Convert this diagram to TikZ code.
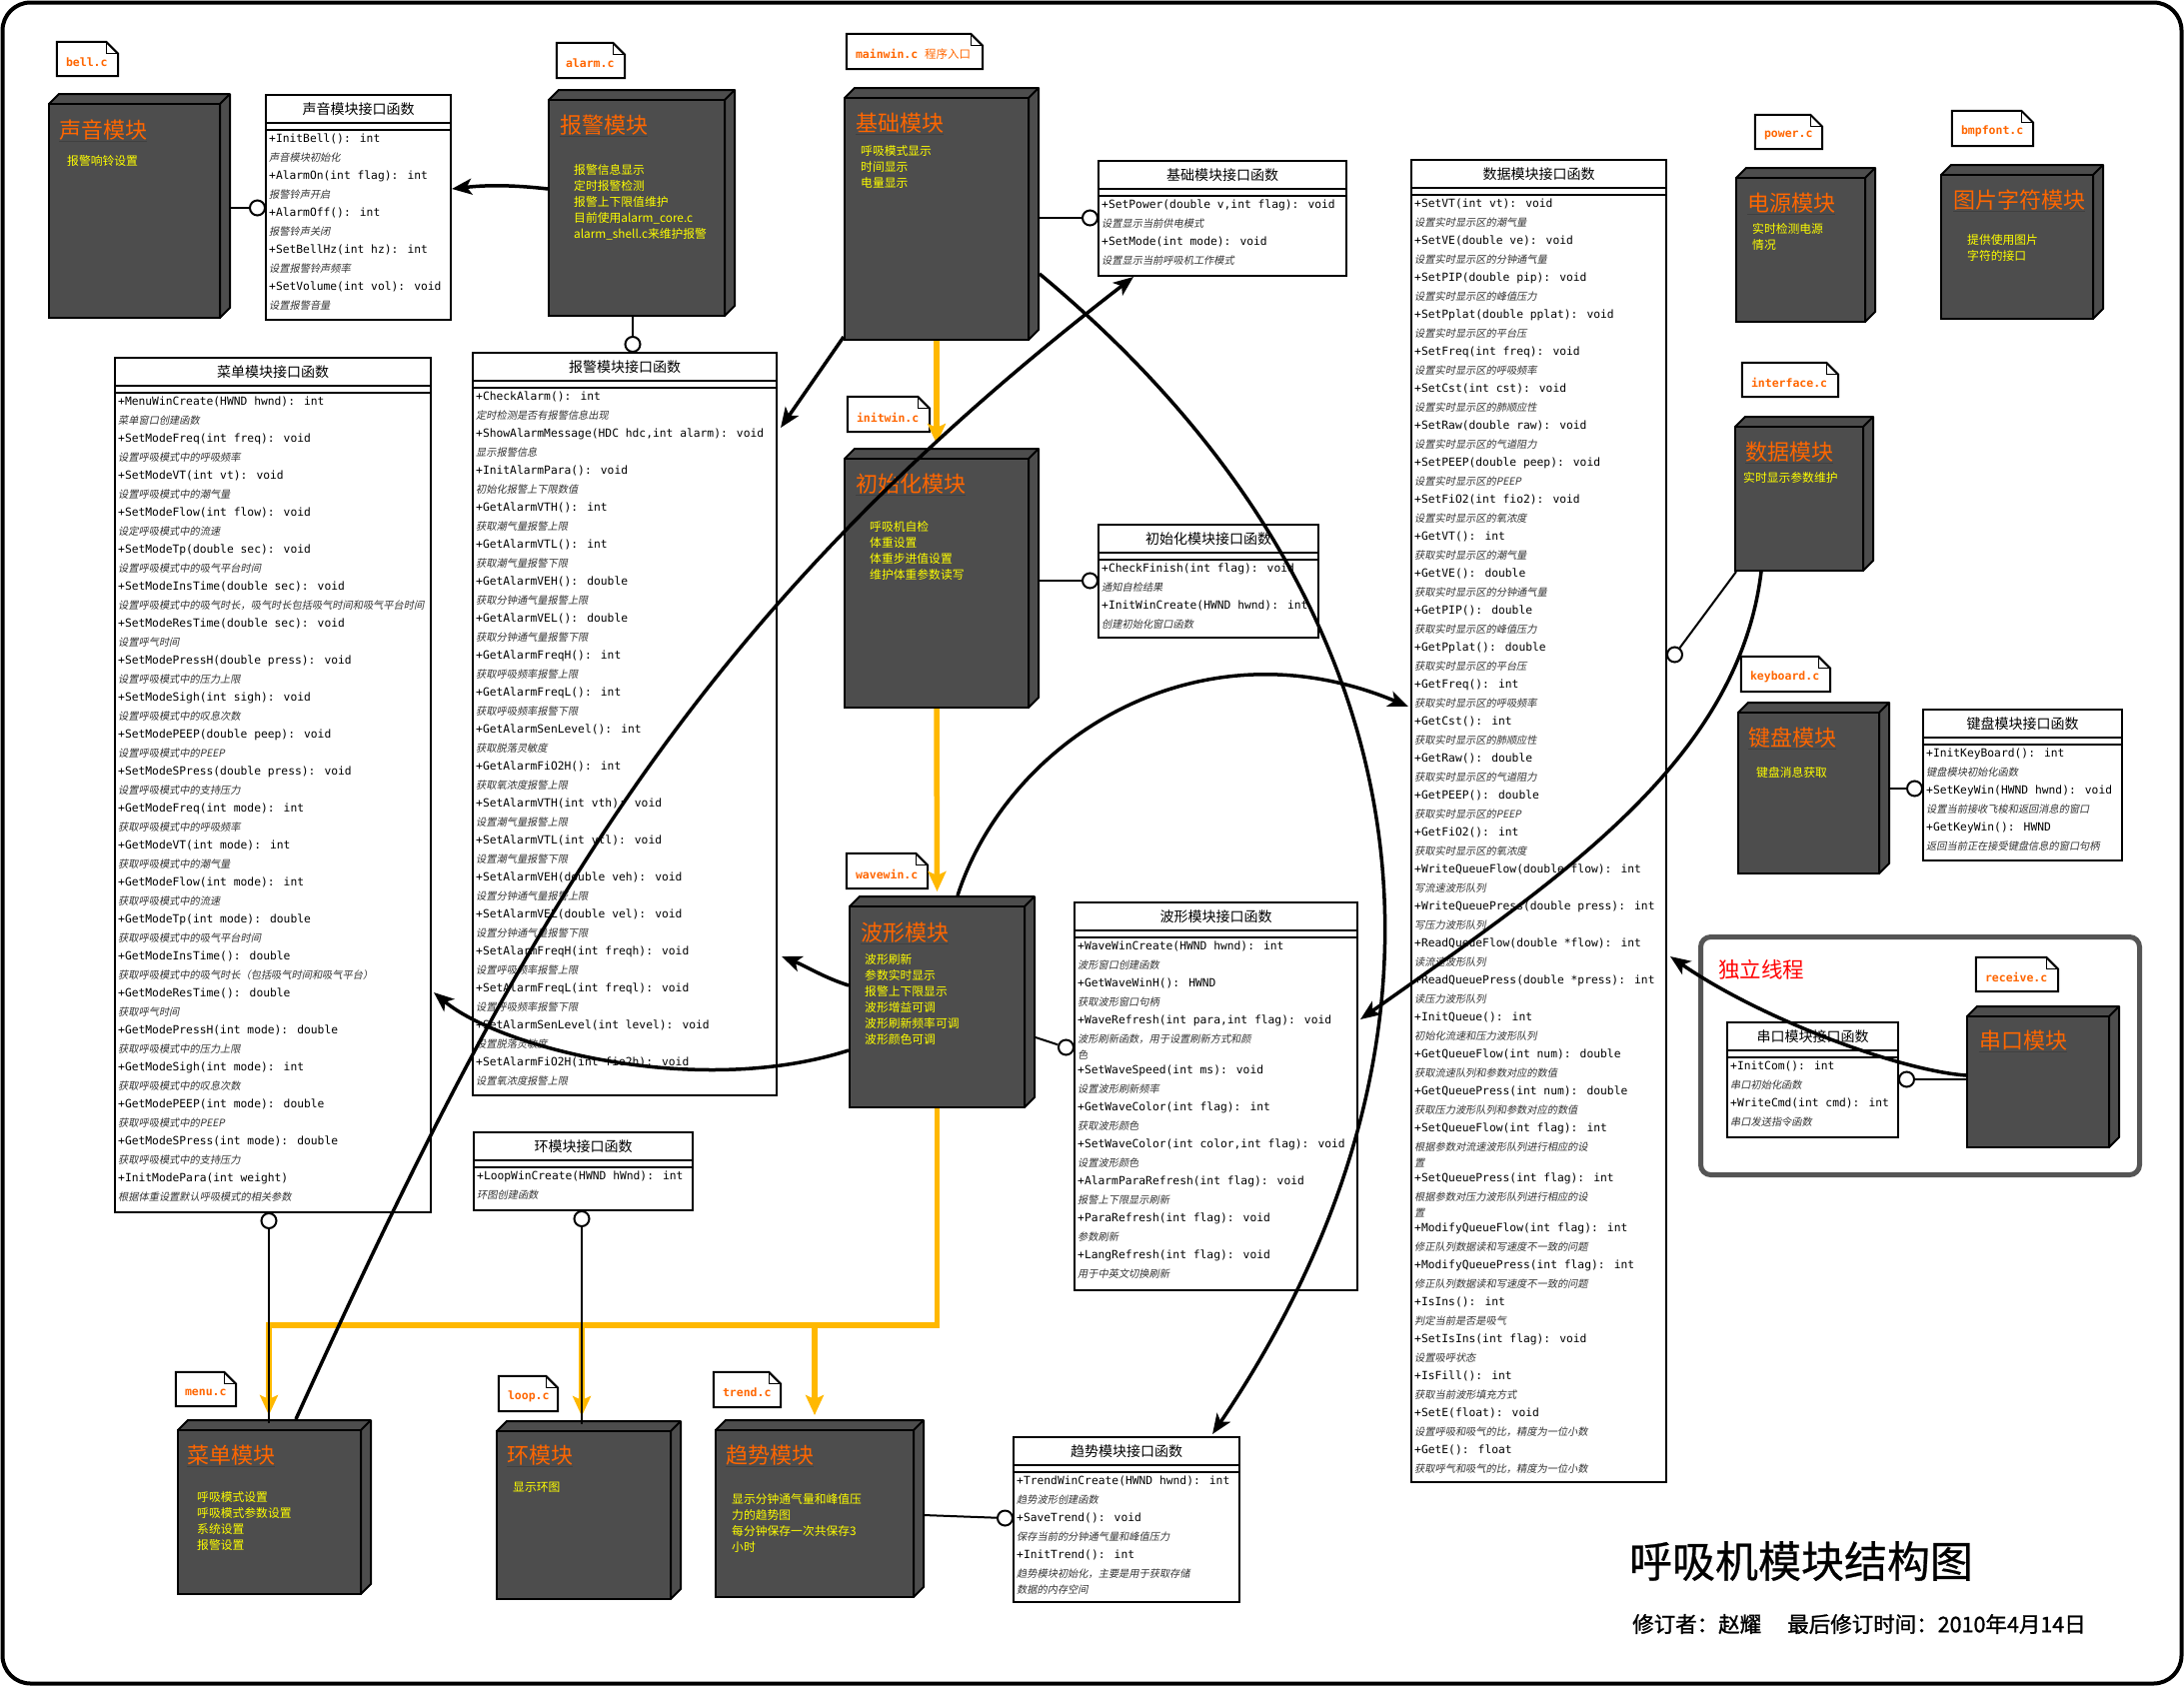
\documentclass[tikz,border=0pt]{standalone}
\usepackage{fontspec}
\usetikzlibrary{arrows.meta,fit,calc}
\newfontfamily\cjk{Noto Sans CJK SC}
\newfontfamily\cjkit{Noto Sans CJK SC}[FakeSlant=0.2]
\newfontfamily\cjkbf{Noto Sans CJK SC}[FakeBold=1.2]
\newfontfamily\cjkmb{Noto Sans CJK SC}[FakeBold=0.6]
\newfontfamily\mono{DejaVu Sans Mono}
\definecolor{boxgray}{HTML}{4D4D4D}
\definecolor{ttlorange}{HTML}{FF6600}
\definecolor{ylw}{HTML}{FFFF00}
\definecolor{amber}{HTML}{FFB800}
\definecolor{framegray}{HTML}{555555}
\newcounter{rowc}
\tikzset{
  modfront/.style={draw=black, fill=boxgray, line width=2pt, inner sep=0pt},
  modback/.style={draw=black, fill=boxgray, line width=2pt, line join=round},
  modtitle/.style={font=\cjk\fontsize{22}{24}\selectfont, text=ttlorange, anchor=west, inner sep=0pt},
  yl/.style={font=\cjk\fontsize{11.8}{16}\selectfont, text=ylw, anchor=north west, align=left, inner sep=0pt},
  ifbox/.style={draw=black, fill=white, line width=2pt, inner sep=0pt},
  iftitle/.style={font=\cjk\fontsize{14}{16}\selectfont, inner sep=0pt},
  sig/.style={font=\mono\fontsize{11.3}{13}\selectfont, anchor=west, inner sep=0pt},
  cmt/.style={font=\cjkit\fontsize{10.2}{11}\selectfont, anchor=west, inner sep=0pt, text=black!80},
  notebox/.style={draw=black, fill=white, line width=2pt, line join=miter},
  notetext/.style={font=\mono\bfseries\fontsize{11.5}{13}\selectfont, text=ttlorange, anchor=west, inner sep=0pt},
  conn/.style={line width=3.5pt, -{Stealth[length=20pt,width=16pt,inset=5pt]}},
  oconn/.style={draw=amber, line width=5.5pt, -{Stealth[length=20pt,width=18pt,inset=4pt]}},
  lolli/.style={line width=2pt},
  ball/.style={circle, draw=black, fill=white, line width=2pt, minimum size=15pt, inner sep=0pt},
}
\newcommand\module[5]{%
  \path[modback] (#2,#3) -- (#2+10,#3-10) -- (#4+10,#3-10) -- (#4+10,#5-10) -- (#4,#5) -- (#4,#3) -- cycle;
  \draw[line width=2pt] (#4,#3) -- (#4+10,#3-10);
  \node[modfront, fit={(#2,#3) (#4,#5)}] (#1) {};}
\newcommand\modtitle[4]{%
  \node[modtitle] (#1-t) at (#2,#3) {#4};
  \draw[line width=1pt, black!75] ($(#1-t.south west)+(0,1)$) -- ($(#1-t.south east)+(0,1)$);}
\newcommand\ytext[4]{\node[yl] (#1-y) at (#2,#3-6) {#4};}
\newcommand\iface[6]{%
  \node[ifbox, fit={(#2,#3) (#4,#5)}] (#1) {};
  \draw[line width=2pt] (#2,#3+28) -- (#4,#3+28) (#2,#3+35) -- (#4,#3+35);
  \node[iftitle] (#1-t) at ({(#2+#4)/2},#3+14) {#6};
  \pgfmathsetmacro\cx{#2+3}\pgfmathsetmacro\cy{#3+35+9.25}}
\newcommand\rowS[1]{\stepcounter{rowc}\node[sig] (row\therowc) at (\cx,\cy) {#1};\pgfmathsetmacro\cy{\cy+18.5}}
\newcommand\rowC[1]{\stepcounter{rowc}\node[cmt] (row\therowc) at (\cx,\cy) {#1};\pgfmathsetmacro\cy{\cy+18.5}}
\newcommand\rowD[1]{\stepcounter{rowc}\node[cmt] (row\therowc) at (\cx,\cy) {#1};\pgfmathsetmacro\cy{\cy+15.5}}
\newcommand\rowW[1]{\stepcounter{rowc}\node[cmt] (row\therowc) at (\cx,\cy) {#1};\pgfmathsetmacro\cy{\cy+16}}
\newcommand\notec[6]{%
  \node[fit={(#2,#3) (#4,#5)}, inner sep=0pt] (#1) {};
  \draw[notebox] (#1.north west) -- ($(#1.north east)+(-12,0)$) -- ($(#1.north east)+(0,12)$) -- (#1.south east) -- (#1.south west) -- cycle;
  \draw[line width=1pt] ($(#1.north east)+(-12,0)$) -- ($(#1.north east)+(-12,12)$) -- ($(#1.north east)+(0,12)$);
  \node[notetext] (#1-t) at ($(#1.west)+(9,3)$) {#6};}
\begin{document}
\begin{tikzpicture}[x=1pt,y=-1pt]
\useasboundingbox (0,0) rectangle (2185,1687);
\fill[white] (0,0) rectangle (2185,1687);
\draw[line width=4pt, rounded corners=28pt] (2.5,2.5) rectangle (2182.5,1684.5);
% independent thread frame
\draw[line width=5pt, framegray, rounded corners=10pt] (1701.5,937.5) rectangle (2140.5,1175.5);
\node[font=\cjk\fontsize{21.5}{24}\selectfont, text=red, anchor=west, inner sep=0pt] (thread) at (1719,970) {独立线程};

% ---------- interface boxes ----------
\iface{soundif}{266}{95}{451}{320}{声音模块接口函数}
\rowS{+InitBell(): int}\rowC{声音模块初始化}
\rowS{+AlarmOn(int flag): int}\rowC{报警铃声开启}
\rowS{+AlarmOff(): int}\rowC{报警铃声关闭}
\rowS{+SetBellHz(int hz): int}\rowC{设置报警铃声频率}
\rowS{+SetVolume(int vol): void}\rowC{设置报警音量}

\iface{alarmif}{473}{353}{777}{1096}{报警模块接口函数}
\rowS{+CheckAlarm(): int}\rowC{定时检测是否有报警信息出现}
\rowS{+ShowAlarmMessage(HDC hdc,int alarm): void}\rowC{显示报警信息}
\rowS{+InitAlarmPara(): void}\rowC{初始化报警上下限数值}
\rowS{+GetAlarmVTH(): int}\rowC{获取潮气量报警上限}
\rowS{+GetAlarmVTL(): int}\rowC{获取潮气量报警下限}
\rowS{+GetAlarmVEH(): double}\rowC{获取分钟通气量报警上限}
\rowS{+GetAlarmVEL(): double}\rowC{获取分钟通气量报警下限}
\rowS{+GetAlarmFreqH(): int}\rowC{获取呼吸频率报警上限}
\rowS{+GetAlarmFreqL(): int}\rowC{获取呼吸频率报警下限}
\rowS{+GetAlarmSenLevel(): int}\rowC{获取脱落灵敏度}
\rowS{+GetAlarmFiO2H(): int}\rowC{获取氧浓度报警上限}
\rowS{+SetAlarmVTH(int vth): void}\rowC{设置潮气量报警上限}
\rowS{+SetAlarmVTL(int vtl): void}\rowC{设置潮气量报警下限}
\rowS{+SetAlarmVEH(double veh): void}\rowC{设置分钟通气量报警上限}
\rowS{+SetAlarmVEL(double vel): void}\rowC{设置分钟通气量报警下限}
\rowS{+SetAlarmFreqH(int freqh): void}\rowC{设置呼吸频率报警上限}
\rowS{+SetAlarmFreqL(int freql): void}\rowC{设置呼吸频率报警下限}
\rowS{+SetAlarmSenLevel(int level): void}\rowC{设置脱落灵敏度}
\rowS{+SetAlarmFiO2H(int fio2h): void}\rowC{设置氧浓度报警上限}

\iface{menuif}{115}{358}{431}{1213}{菜单模块接口函数}
\rowS{+MenuWinCreate(HWND hwnd): int}\rowC{菜单窗口创建函数}
\rowS{+SetModeFreq(int freq): void}\rowC{设置呼吸模式中的呼吸频率}
\rowS{+SetModeVT(int vt): void}\rowC{设置呼吸模式中的潮气量}
\rowS{+SetModeFlow(int flow): void}\rowC{设定呼吸模式中的流速}
\rowS{+SetModeTp(double sec): void}\rowC{设置呼吸模式中的吸气平台时间}
\rowS{+SetModeInsTime(double sec): void}\rowC{设置呼吸模式中的吸气时长，吸气时长包括吸气时间和吸气平台时间}
\rowS{+SetModeResTime(double sec): void}\rowC{设置呼气时间}
\rowS{+SetModePressH(double press): void}\rowC{设置呼吸模式中的压力上限}
\rowS{+SetModeSigh(int sigh): void}\rowC{设置呼吸模式中的叹息次数}
\rowS{+SetModePEEP(double peep): void}\rowC{设置呼吸模式中的PEEP}
\rowS{+SetModeSPress(double press): void}\rowC{设置呼吸模式中的支持压力}
\rowS{+GetModeFreq(int mode): int}\rowC{获取呼吸模式中的呼吸频率}
\rowS{+GetModeVT(int mode): int}\rowC{获取呼吸模式中的潮气量}
\rowS{+GetModeFlow(int mode): int}\rowC{获取呼吸模式中的流速}
\rowS{+GetModeTp(int mode): double}\rowC{获取呼吸模式中的吸气平台时间}
\rowS{+GetModeInsTime(): double}\rowC{获取呼吸模式中的吸气时长（包括吸气时间和吸气平台）}
\rowS{+GetModeResTime(): double}\rowC{获取呼气时间}
\rowS{+GetModePressH(int mode): double}\rowC{获取呼吸模式中的压力上限}
\rowS{+GetModeSigh(int mode): int}\rowC{获取呼吸模式中的叹息次数}
\rowS{+GetModePEEP(int mode): double}\rowC{获取呼吸模式中的PEEP}
\rowS{+GetModeSPress(int mode): double}\rowC{获取呼吸模式中的支持压力}
\rowS{+InitModePara(int weight)}\rowC{根据体重设置默认呼吸模式的相关参数}

\iface{baseif}{1099}{161}{1347}{276}{基础模块接口函数}
\rowS{+SetPower(double v,int flag): void}\rowC{设置显示当前供电模式}
\rowS{+SetMode(int mode): void}\rowC{设置显示当前呼吸机工作模式}

\iface{initif}{1099}{525}{1319}{638}{初始化模块接口函数}
\rowS{+CheckFinish(int flag): void}\rowC{通知自检结果}
\rowS{+InitWinCreate(HWND hwnd): int}\rowC{创建初始化窗口函数}

\iface{dataif}{1412}{160}{1667}{1483}{数据模块接口函数}
\rowS{+SetVT(int vt): void}\rowC{设置实时显示区的潮气量}
\rowS{+SetVE(double ve): void}\rowC{设置实时显示区的分钟通气量}
\rowS{+SetPIP(double pip): void}\rowC{设置实时显示区的峰值压力}
\rowS{+SetPplat(double pplat): void}\rowC{设置实时显示区的平台压}
\rowS{+SetFreq(int freq): void}\rowC{设置实时显示区的呼吸频率}
\rowS{+SetCst(int cst): void}\rowC{设置实时显示区的肺顺应性}
\rowS{+SetRaw(double raw): void}\rowC{设置实时显示区的气道阻力}
\rowS{+SetPEEP(double peep): void}\rowC{设置实时显示区的PEEP}
\rowS{+SetFiO2(int fio2): void}\rowC{设置实时显示区的氧浓度}
\rowS{+GetVT(): int}\rowC{获取实时显示区的潮气量}
\rowS{+GetVE(): double}\rowC{获取实时显示区的分钟通气量}
\rowS{+GetPIP(): double}\rowC{获取实时显示区的峰值压力}
\rowS{+GetPplat(): double}\rowC{获取实时显示区的平台压}
\rowS{+GetFreq(): int}\rowC{获取实时显示区的呼吸频率}
\rowS{+GetCst(): int}\rowC{获取实时显示区的肺顺应性}
\rowS{+GetRaw(): double}\rowC{获取实时显示区的气道阻力}
\rowS{+GetPEEP(): double}\rowC{获取实时显示区的PEEP}
\rowS{+GetFiO2(): int}\rowC{获取实时显示区的氧浓度}
\rowS{+WriteQueueFlow(double flow): int}\rowC{写流速波形队列}
\rowS{+WriteQueuePress(double press): int}\rowC{写压力波形队列}
\rowS{+ReadQueueFlow(double *flow): int}\rowC{读流速波形队列}
\rowS{+ReadQueuePress(double *press): int}\rowC{读压力波形队列}
\rowS{+InitQueue(): int}\rowC{初始化流速和压力波形队列}
\rowS{+GetQueueFlow(int num): double}\rowC{获取流速队列和参数对应的数值}
\rowS{+GetQueuePress(int num): double}\rowC{获取压力波形队列和参数对应的数值}
\rowS{+SetQueueFlow(int flag): int}\rowD{根据参数对流速波形队列进行相应的设}\rowW{置}
\rowS{+SetQueuePress(int flag): int}\rowD{根据参数对压力波形队列进行相应的设}\rowW{置}
\rowS{+ModifyQueueFlow(int flag): int}\rowC{修正队列数据读和写速度不一致的问题}
\rowS{+ModifyQueuePress(int flag): int}\rowC{修正队列数据读和写速度不一致的问题}
\rowS{+IsIns(): int}\rowC{判定当前是否是吸气}
\rowS{+SetIsIns(int flag): void}\rowC{设置吸呼状态}
\rowS{+IsFill(): int}\rowC{获取当前波形填充方式}
\rowS{+SetE(float): void}\rowC{设置呼吸和吸气的比，精度为一位小数}
\rowS{+GetE(): float}\rowC{获取呼气和吸气的比，精度为一位小数}

\iface{waveif}{1075}{903}{1358}{1291}{波形模块接口函数}
\rowS{+WaveWinCreate(HWND hwnd): int}\rowC{波形窗口创建函数}
\rowS{+GetWaveWinH(): HWND}\rowC{获取波形窗口句柄}
\rowS{+WaveRefresh(int para,int flag): void}\rowD{波形刷新函数，用于设置刷新方式和颜}\rowW{色}
\rowS{+SetWaveSpeed(int ms): void}\rowC{设置波形刷新频率}
\rowS{+GetWaveColor(int flag): int}\rowC{获取波形颜色}
\rowS{+SetWaveColor(int color,int flag): void}\rowC{设置波形颜色}
\rowS{+AlarmParaRefresh(int flag): void}\rowC{报警上下限显示刷新}
\rowS{+ParaRefresh(int flag): void}\rowC{参数刷新}
\rowS{+LangRefresh(int flag): void}\rowC{用于中英文切换刷新}

\iface{keyif}{1924}{710}{2123}{861}{键盘模块接口函数}
\rowS{+InitKeyBoard(): int}\rowC{键盘模块初始化函数}
\rowS{+SetKeyWin(HWND hwnd): void}\rowC{设置当前接收飞梭和返回消息的窗口}
\rowS{+GetKeyWin(): HWND}\rowC{返回当前正在接受键盘信息的窗口句柄}

\iface{serialif}{1728}{1023}{1899}{1138}{串口模块接口函数}
\rowS{+InitCom(): int}\rowC{串口初始化函数}
\rowS{+WriteCmd(int cmd): int}\rowC{串口发送指令函数}

\iface{loopif}{474}{1133}{693}{1211}{环模块接口函数}
\rowS{+LoopWinCreate(HWND hWnd): int}\rowC{环图创建函数}

\iface{trendif}{1014}{1438}{1240}{1603}{趋势模块接口函数}
\rowS{+TrendWinCreate(HWND hwnd): int}\rowC{趋势波形创建函数}
\rowS{+SaveTrend(): void}\rowC{保存当前的分钟通气量和峰值压力}
\rowS{+InitTrend(): int}\rowD{趋势模块初始化，主要是用于获取存储}\rowW{数据的内存空间}

% ---------- modules ----------
\module{sound}{49}{104}{220}{318}
\modtitle{sound}{59}{130}{声音模块}
\ytext{sound}{67}{161}{报警响铃设置}

\module{alarm}{549}{100}{725}{316}
\modtitle{alarm}{560}{125}{报警模块}
\ytext{alarm}{574}{170}{报警信息显示\\定时报警检测\\报警上下限值维护\\目前使用alarm\_core.c\\alarm\_shell.c来维护报警}

\module{base}{845}{98}{1029}{340}
\modtitle{base}{856}{123}{基础模块}
\ytext{base}{861}{151}{呼吸模式显示\\时间显示\\电量显示}

\module{init}{845}{459}{1029}{708}
\modtitle{init}{856}{484}{初始化模块}
\ytext{init}{870}{527}{呼吸机自检\\体重设置\\体重步进值设置\\维护体重参数读写}

\module{wave}{850}{907}{1025}{1108}
\modtitle{wave}{861}{933}{波形模块}
\ytext{wave}{865}{960}{波形刷新\\参数实时显示\\报警上下限显示\\波形增益可调\\波形刷新频率可调\\波形颜色可调}

\module{power}{1737}{178}{1866}{322}
\modtitle{power}{1748}{203}{电源模块}
\ytext{power}{1753}{229}{实时检测电源\\情况}

\module{bmp}{1942}{175}{2094}{319}
\modtitle{bmp}{1954}{200}{图片字符模块}
\ytext{bmp}{1968}{240}{提供使用图片\\字符的接口}

\module{data}{1736}{427}{1864}{571}
\modtitle{data}{1746}{452}{数据模块}
\ytext{data}{1744}{478}{实时显示参数维护}

\module{key}{1739}{713}{1880}{874}
\modtitle{key}{1749}{738}{键盘模块}
\ytext{key}{1757}{773}{键盘消息获取}

\module{serial}{1968}{1017}{2110}{1148}
\modtitle{serial}{1980}{1041}{串口模块}

\module{menu}{178}{1431}{361}{1595}
\modtitle{menu}{187}{1456}{菜单模块}
\ytext{menu}{197}{1498}{呼吸模式设置\\呼吸模式参数设置\\系统设置\\报警设置}

\module{loop}{497}{1432}{671}{1600}
\modtitle{loop}{507}{1456}{环模块}
\ytext{loop}{513}{1489}{显示环图}

\module{trend}{716}{1431}{914}{1598}
\modtitle{trend}{726}{1456}{趋势模块}
\ytext{trend}{732}{1500}{显示分钟通气量和峰值压\\力的趋势图\\每分钟保存一次共保存3\\小时}

% ---------- file notes ----------
\notec{nbell}{57}{42}{118}{76}{bell.c}
\notec{nalarm}{557}{43}{625}{78}{alarm.c}
\notec{nmain}{847}{34}{983}{69}{mainwin.c {\cjk\mdseries 程序入口}}
\notec{ninit}{848}{397}{930}{432}{initwin.c}
\notec{nwave}{847}{854}{928}{889}{wavewin.c}
\notec{npower}{1756}{115}{1823}{149}{power.c}
\notec{nbmp}{1953}{111}{2034}{146}{bmpfont.c}
\notec{ndata}{1743}{363}{1839}{397}{interface.c}
\notec{nkey}{1742}{657}{1831}{692}{keyboard.c}
\notec{nserial}{1977}{958}{2059}{992}{receive.c}
\notec{nmenu}{176}{1373}{236}{1407}{menu.c}
\notec{nloop}{499}{1377}{558}{1412}{loop.c}
\notec{ntrend}{714}{1373}{781}{1408}{trend.c}

% ---------- lollipop balls ----------
\node[ball] (soundb) at ($(soundif.north west)+(-7.5,114)$) {};
\node[ball] (alarmb) at ($(alarmif.north west)+(161,-7.5)$) {};
\node[ball] (baseb) at ($(baseif.north west)+(-7.5,58)$) {};
\node[ball] (initb) at ($(initif.north west)+(-7.5,57)$) {};
\node[ball] (waveb) at ($(waveif.north west)+(-7.5,146)$) {};
\node[ball] (datab) at ($(dataif.north east)+(7.5,496)$) {};
\node[ball] (keyb) at ($(keyif.north west)+(-7.5,80)$) {};
\node[ball] (serialb) at ($(serialif.north east)+(7.5,58)$) {};
\node[ball] (menub) at ($(menuif.south west)+(155,7.5)$) {};
\node[ball] (loopb) at ($(loopif.south west)+(109,7.5)$) {};
\node[ball] (trendb) at ($(trendif.north west)+(-7.5,82)$) {};

% ---------- orange flow ----------
\coordinate (obus) at ($(wave.south)+(0,217)$);
\draw[oconn] (base.south) -- ($(init.north)+(0,-14)$);
\draw[oconn] (init.south) -- ($(wave.north)+(0,-14)$);
\draw[oconn, line join=miter] (wave.south) -- (obus) -- (obus -| menub) -- ($(menub |- menu.north)+(0,-14)$);
\draw[oconn] (obus -| loopb) -- ($(loopb |- loop.north)+(0,-14)$);
\draw[oconn] (obus -| trend.north) -- ($(trend.north)+(0,-14)$);

% ---------- lollipop lines ----------
\draw[lolli] ($(sound.east |- soundb)+(10,0)$) -- (soundb);
\draw[lolli] (alarmb |- alarm.south) -- (alarmb);
\draw[lolli] ($(base.east |- baseb)+(10,0)$) -- (baseb);
\draw[lolli] ($(init.east |- initb)+(10,0)$) -- (initb);
\draw[lolli] ($(wave.north east)+(10,132)$) -- (waveb);
\draw[lolli] ($(data.south west)+(2,0)$) -- (datab);
\draw[lolli] ($(key.east |- keyb)+(10,0)$) -- (keyb);
\draw[lolli] (serial.west |- serialb) -- (serialb);
\draw[lolli] (menub) -- ($(menub |- menu.north)+(0,-6)$);
\draw[lolli] (loopb) -- ($(loopb |- loop.north)+(0,-6)$);
\draw[lolli] ($(trend.east |- trendb)+(9,-3)$) -- (trendb);

% ---------- dependency arrows ----------
\draw[conn] ($(alarm.north west)+(0,90)$) .. controls +(-35,-4) and +(35,-4) .. ($(soundif.north east)+(0,95)$);
\draw[conn] ($(base.south west)+(0,-4)$) -- ($(alarmif.north east)+(3,76)$);
\draw[conn] ($(menu.north west)+(119,-10)$) .. controls +(230,-506) and +(-440,340) .. ($(baseif.south west)+(36,0)$);
\draw[conn] ($(base.north east)+(10,177)$) .. controls +(385,320) and +(280,-415) .. ($(trendif.north east)+(-28,-2)$);
\draw[conn] ($(wave.north west)+(0,80)$) .. controls +(-25,-8) and +(25,10) .. ($(alarmif.north east)+(4,605)$);
\draw[conn] ($(wave.north west)+(0,145)$) .. controls +(-150,48) and +(67,56) .. ($(menuif.north east)+(2,636)$);
\draw[conn] ($(wave.north west)+(109,-10)$) .. controls +(51,-157) and +(-210,-88) .. ($(dataif.north west)+(-2,548)$);
\draw[conn] ($(serial.north west)+(0,60)$) .. controls +(-68,-5) and +(90,62) .. ($(dataif.north east)+(3,798)$);
\draw[conn] ($(data.south west)+(27,0)$) .. controls +(-23,189) and +(200,-141) .. ($(waveif.north east)+(2,118)$);

% ---------- title ----------
\node[font=\cjkmb\fontsize{43}{48}\selectfont, inner sep=0pt] (title) at (1802,1562) {呼吸机模块结构图};
\node[font=\cjkbf\fontsize{21.5}{24}\selectfont, anchor=west, inner sep=0pt] (rev) at (1633,1625) {修订者：赵耀};
\node[font=\cjkbf\fontsize{21.5}{24}\selectfont, anchor=west, inner sep=0pt] (date) at (1788,1625) {最后修订时间：2010年4月14日};
\end{tikzpicture}
\end{document}
